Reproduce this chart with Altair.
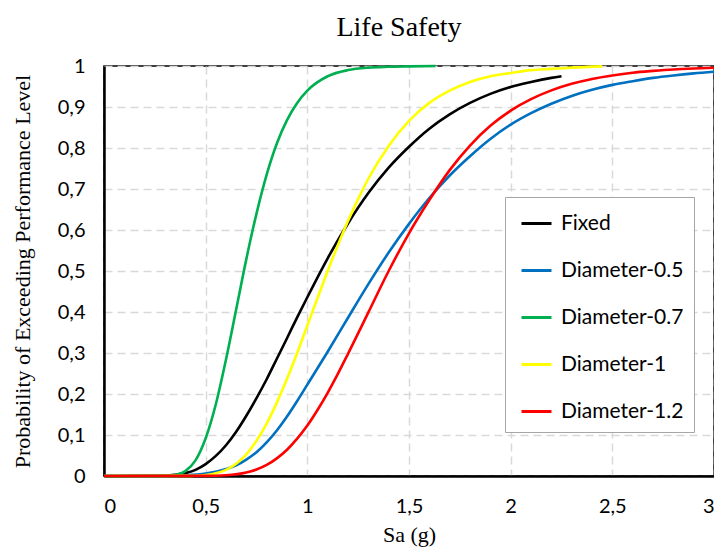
import altair as alt
import pandas as pd

series_names = ["Fixed", "Diameter-0.5", "Diameter-0.7", "Diameter-1", "Diameter-1.2"]
series_colors = ["#000000", "#0070C0", "#00B050", "#FFFF00", "#FF0000"]

fixed_x = [0, 0.3, 0.35, 0.4, 0.45, 0.5, 0.55, 0.6, 0.65, 0.7, 0.75, 0.8, 0.85, 0.9, 0.95, 1.0,
           1.1, 1.2, 1.3, 1.4, 1.5, 1.6, 1.7, 1.8, 1.9, 2.0, 2.1, 2.2, 2.25]
fixed_y = [0, 0.001, 0.003, 0.007, 0.015, 0.029, 0.049, 0.075, 0.108, 0.147, 0.19, 0.236, 0.286, 0.336,
           0.387, 0.436, 0.531, 0.616, 0.69, 0.752, 0.803, 0.847, 0.882, 0.91, 0.932, 0.949, 0.961,
           0.971, 0.975]

d05_x = [0, 0.3, 0.4, 0.5, 0.6, 0.65, 0.7, 0.75, 0.8, 0.85, 0.9, 0.95, 1.0, 1.1, 1.2, 1.3, 1.4, 1.5,
         1.6, 1.7, 1.8, 1.9, 2.0, 2.1, 2.2, 2.3, 2.4, 2.5, 2.6, 2.7, 2.8, 2.9, 3.0]
d05_y = [0, 0.0, 0.0015, 0.006, 0.017, 0.026, 0.040, 0.058, 0.082, 0.111, 0.145, 0.183, 0.223, 0.303,
         0.386, 0.468, 0.545, 0.615, 0.678, 0.733, 0.78, 0.822, 0.857, 0.885, 0.908, 0.927, 0.942, 0.954,
         0.963, 0.971, 0.977, 0.982, 0.986]

d07_x = [0, 0.3, 0.35, 0.4, 0.45, 0.5, 0.55, 0.6, 0.65, 0.7, 0.75, 0.8, 0.85, 0.9, 0.95, 1.0, 1.1,
         1.2, 1.3, 1.4, 1.5, 1.63]
d07_y = [0, 0.0003, 0.0024, 0.012, 0.038, 0.092, 0.175, 0.284, 0.406, 0.529, 0.64, 0.735, 0.811,
         0.868, 0.91, 0.94, 0.975, 0.99, 0.996, 0.998, 0.999, 1.0]

d10_x = [0, 0.4, 0.45, 0.5, 0.55, 0.6, 0.65, 0.7, 0.75, 0.8, 0.85, 0.9, 0.95, 1.0, 1.05, 1.1, 1.15,
         1.2, 1.25, 1.3, 1.4, 1.5, 1.6, 1.7, 1.8, 1.9, 2.0, 2.1, 2.2, 2.3, 2.45]
d10_y = [0, 0.0002, 0.0007, 0.0024, 0.0066, 0.015, 0.030, 0.053, 0.086, 0.128, 0.179, 0.237, 0.30,
         0.367, 0.434, 0.50, 0.563, 0.622, 0.676, 0.725, 0.805, 0.866, 0.91, 0.94, 0.961, 0.975,
         0.983, 0.99, 0.993, 0.996, 0.999]

d12_x = [0, 0.5, 0.6, 0.7, 0.75, 0.8, 0.85, 0.9, 0.95, 1.0, 1.05, 1.1, 1.15, 1.2, 1.3, 1.4, 1.5, 1.6,
         1.7, 1.8, 1.9, 2.0, 2.1, 2.2, 2.3, 2.4, 2.5, 2.6, 2.7, 2.8, 2.9, 3.0]
d12_y = [0, 0.0002, 0.0018, 0.0084, 0.0157, 0.027, 0.043, 0.064, 0.091, 0.123, 0.161, 0.203, 0.249,
         0.298, 0.399, 0.5, 0.592, 0.673, 0.746, 0.806, 0.854, 0.891, 0.919, 0.9405, 0.9565, 0.9685,
         0.977, 0.9836, 0.988, 0.9916, 0.994, 0.9957]

x_ticks = [0, 0.5, 1, 1.5, 2, 2.5, 3]
y_ticks = [0, 0.1, 0.2, 0.3, 0.4, 0.5, 0.6, 0.7, 0.8, 0.9, 1]

all_x = [fixed_x, d05_x, d07_x, d10_x, d12_x]
all_y = [fixed_y, d05_y, d07_y, d10_y, d12_y]

rows = []
for name, xs, ys in zip(series_names, all_x, all_y):
    for i, (a, b) in enumerate(zip(xs, ys)):
        rows.append({"series": name, "sa": a, "p": b, "idx": i})
df = pd.DataFrame(rows)

comma = "replace(toString(datum.value), '.', ',')"

chart = alt.Chart(df).mark_line(strokeWidth=2.6, interpolate="monotone").encode(
    x=alt.X("sa:Q",
            scale=alt.Scale(domain=[0, 3], nice=False),
            axis=alt.Axis(values=x_ticks, title="Sa (g)", labelExpr=comma,
                          grid=True, gridDash=[8, 5], gridColor="#D9D9D9", gridWidth=1.5,
                          domainColor="#000000", domainWidth=2.5, ticks=False,
                          labelFont="Lato", labelFontSize=20, labelColor="#000000",
                          labelPadding=20,
                          titleFont="Liberation Serif", titleFontSize=22,
                          titleFontWeight="normal", titleColor="#000000", titlePadding=8)),
    y=alt.Y("p:Q",
            scale=alt.Scale(domain=[0, 1], nice=False),
            axis=alt.Axis(values=y_ticks, title="Probability of Exceeding  Performance Level",
                          labelExpr=comma,
                          grid=True, gridDash=[8, 5], gridColor="#D9D9D9", gridWidth=1.5,
                          domainColor="#000000", domainWidth=2.5, ticks=False,
                          labelFont="Lato", labelFontSize=20, labelColor="#000000",
                          labelPadding=19,
                          titleFont="Liberation Serif", titleFontSize=22,
                          titleFontWeight="normal", titleColor="#000000", titlePadding=23)),
    color=alt.Color("series:N",
                    scale=alt.Scale(domain=series_names, range=series_colors),
                    legend=alt.Legend(title=None, orient="none", legendX=401, legendY=131,
                                      padding=10, strokeColor="#A6A6A6", fillColor="#FFFFFF",
                                      symbolType="stroke", symbolSize=900, symbolStrokeWidth=3,
                                      symbolOffset=5, labelOffset=8, rowPadding=20,
                                      labelFont="Lato", labelFontSize=21, labelColor="#000000")),
    order=alt.Order("idx:Q"),
).properties(
    width=610,
    height=410,
    title=alt.Title("Life Safety", font="Liberation Serif", fontSize=28, fontWeight="normal",
                    color="#000000", offset=14, dx=-10),
    padding={"left": 96, "top": 58, "right": 0, "bottom": 71},
    autosize=alt.AutoSizeParams(type="none"),
).configure_view(stroke="#000000", strokeWidth=1.5)

chart.save("out.html", embed_options={"renderer": "svg", "actions": False})
